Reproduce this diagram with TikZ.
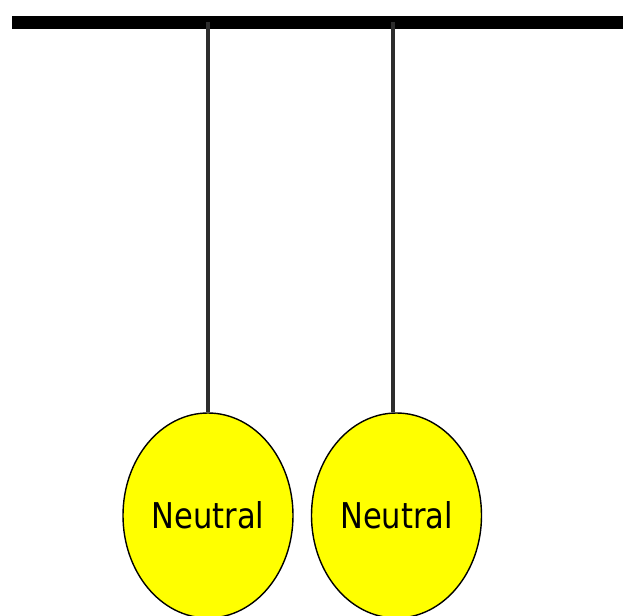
\documentclass[tikz,border=0pt]{standalone}
\usepackage{fontspec}
\newfontfamily\labelfont[FakeStretch=0.86]{DejaVu Sans}
\usetikzlibrary{shapes.geometric}
\definecolor{ballyellow}{RGB}{255,255,0}
\definecolor{stringgray}{RGB}{45,45,45}
\begin{document}
\begin{tikzpicture}[x=1pt,y=-1pt,
  bar/.style={line width=12.5pt,black},
  string/.style={line width=3.3pt,color=stringgray},
  ball/.style={ellipse,draw=black,line width=1.4pt,fill=ballyellow,minimum width=170pt,minimum height=205pt,inner sep=0pt,font=\labelfont\fontsize{35.5}{40}\selectfont,text=black}]
\useasboundingbox (0,0) rectangle (623,615);
\clip (0,0) rectangle (623,615);
\coordinate (barL) at (12,22.5);
\coordinate (barR) at (630,22.5);
\draw[bar] (barL) -- (barR);
\node[ball] (b1) at (208,515.5) {Neutral};
\node[ball] (b2) at (396.5,515.5) {Neutral};
\coordinate (t1) at (208,22.5);
\coordinate (t2) at (393,22.5);
\draw[string] (t1) -- (b1.north);
\draw[string] (t2) -- (t2 |- b2.north);
\end{tikzpicture}
\end{document}
